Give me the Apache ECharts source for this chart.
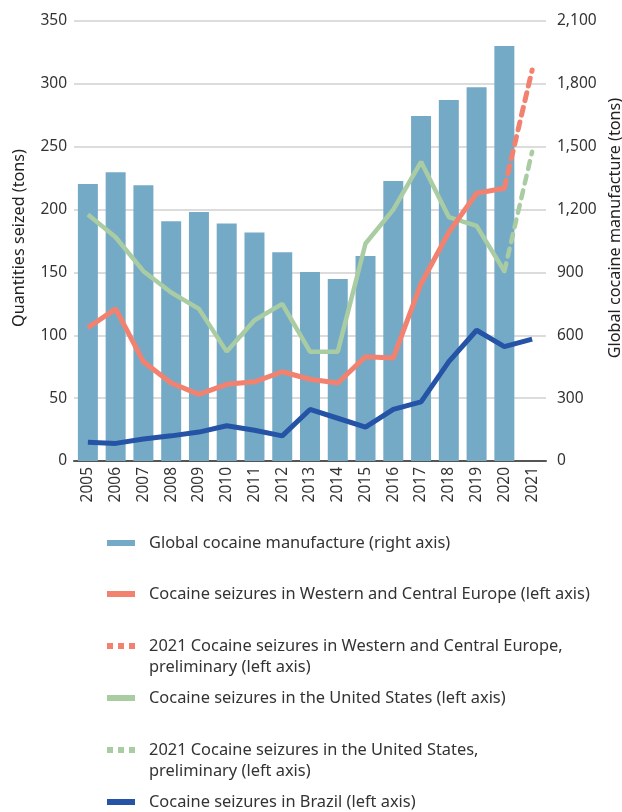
<!DOCTYPE html>
<html>
<head>
<meta charset="utf-8">
<script src="https://cdn.jsdelivr.net/npm/echarts@6/dist/echarts.min.js"></script>
<style>
  html, body { margin: 0; padding: 0; background: #fff; }
  #chart { width: 622px; height: 812px; }
</style>
</head>
<body>
<div id="chart"></div>
<script>
const years = ['2005', '2006', '2007', '2008', '2009', '2010', '2011', '2012', '2013',
  '2014', '2015', '2016', '2017', '2018', '2019', '2020', '2021']

// right axis, tons
const manufacture = [1322, 1378, 1316, 1144, 1188, 1133, 1090, 996, 902, 869, 978, 1336, 1647, 1723, 1784, 1981, null]

// left axis, tons
const europe = [106, 121, 79, 62, 53, 61, 63, 71, 65, 62, 83, 82, 141, 182, 213, 217, null]
const europePrelim = [null, null, null, null, null, null, null, null, null, null, null, null, null, null, null, 217, 311]
const usa = [196, 178, 151, 134, 121, 87, 112, 125, 87, 87, 173, 200, 238, 194, 187, 151, null]
const usaPrelim = [null, null, null, null, null, null, null, null, null, null, null, null, null, null, null, 151, 246]
const brazil = [15, 14, 17.5, 20, 23, 28, 24.5, 20, 41, 34, 27, 41, 47, 79, 104, 91, 97]

const names = {
  manufacture: 'Global cocaine manufacture (right axis)',
  europe: 'Cocaine seizures in Western and Central Europe (left axis)',
  europePrelim: '2021 Cocaine seizures in Western and Central Europe,\npreliminary (left axis)',
  usa: 'Cocaine seizures in the United States (left axis)',
  usaPrelim: '2021 Cocaine seizures in the United States,\npreliminary (left axis)',
  brazil: 'Cocaine seizures in Brazil (left axis)',
}

const colors = {
  bar: '#75aac7',
  europe: '#f2826f',
  usa: '#a9cca2',
  brazil: '#2553a5',
}

const font = '"Noto Sans", "Open Sans", sans-serif'
const dashIcon = 'path://M0,0h6v6h-6z M11,0h6v6h-6z M22,0h6v6h-6z'

// one legend per entry so the uneven spacing of the original can be kept
function legendItem(name, iconY, twoLines) {
  return {
    data: [name],
    left: 107,
    // two-line names get an empty first line, so the icon sits level with line one
    top: twoLines ? iconY - 31.5 : iconY - 10.5,
    padding: 0,
    icon: twoLines ? dashIcon : 'rect',
    itemWidth: 28,
    itemHeight: 6,
    selectedMode: false,
    formatter: twoLines ? (n) => '\n' + n : '{name}',
    itemStyle: { borderWidth: 0 },
    textStyle: {
      fontFamily: font,
      fontSize: 16.4,
      color: '#333',
      lineHeight: 21,
      padding: [0, 0, 0, 9],
    },
  }
}

const chart = echarts.init(document.getElementById('chart'), null, { renderer: 'canvas' })

chart.setOption({
  animation: false,
  backgroundColor: '#fff',
  textStyle: { fontFamily: font },
  grid: { left: 74, right: 76, top: 21, bottom: 351, outerBoundsMode: 'none' },
  legend: [
    legendItem(names.manufacture, 543),
    legendItem(names.europe, 594),
    legendItem(names.europePrelim, 646, true),
    legendItem(names.usa, 698),
    legendItem(names.usaPrelim, 750, true),
    legendItem(names.brazil, 802),
  ],
  xAxis: {
    type: 'category',
    data: years,
    axisTick: { show: false },
    axisLine: { lineStyle: { color: '#555', width: 2 } },
    axisLabel: { rotate: 90, color: '#333', fontSize: 15.5, margin: 6, interval: 0 },
  },
  yAxis: [
    {
      type: 'value',
      min: 0,
      max: 350,
      interval: 50,
      name: 'Quantities seized (tons)',
      nameLocation: 'middle',
      nameRotate: 90,
      nameGap: 47,
      nameTextStyle: { fontSize: 16.2, color: '#222', padding: [0, 0, 0, 6] },
      axisLine: { show: false },
      axisTick: { show: false },
      axisLabel: { color: '#333', fontSize: 15.5, margin: 7 },
      splitLine: { lineStyle: { color: '#d0d0d0', width: 1.5 } },
    },
    {
      type: 'value',
      min: 0,
      max: 2100,
      interval: 300,
      name: 'Global cocaine manufacture (tons)',
      nameLocation: 'middle',
      nameRotate: 90,
      nameGap: 59,
      nameTextStyle: { fontSize: 16.2, color: '#222', padding: [0, 0, 0, 26] },
      axisLine: { show: false },
      axisTick: { show: false },
      axisLabel: { color: '#333', fontSize: 15.5, margin: 11, formatter: (v) => v.toLocaleString('en-US') },
      splitLine: { show: false },
    },
  ],
  series: [
    {
      name: names.manufacture,
      type: 'bar',
      yAxisIndex: 1,
      barWidth: '72%',
      itemStyle: { color: colors.bar },
      data: manufacture,
    },
    {
      name: names.usa,
      type: 'line',
      symbol: 'none',
      lineStyle: { color: colors.usa, width: 4.5 },
      itemStyle: { color: colors.usa },
      data: usa,
    },
    {
      name: names.usaPrelim,
      type: 'line',
      symbol: 'none',
      lineStyle: { color: colors.usa, width: 4.5, type: [8, 7], cap: 'round' },
      itemStyle: { color: colors.usa },
      data: usaPrelim,
    },
    {
      name: names.europe,
      type: 'line',
      symbol: 'none',
      lineStyle: { color: colors.europe, width: 5 },
      itemStyle: { color: colors.europe },
      data: europe,
    },
    {
      name: names.europePrelim,
      type: 'line',
      symbol: 'none',
      lineStyle: { color: colors.europe, width: 5, type: [8, 7], cap: 'round' },
      itemStyle: { color: colors.europe },
      data: europePrelim,
    },
    {
      name: names.brazil,
      type: 'line',
      symbol: 'none',
      lineStyle: { color: colors.brazil, width: 5 },
      itemStyle: { color: colors.brazil },
      data: brazil,
    },
  ],
})
</script>
</body>
</html>
